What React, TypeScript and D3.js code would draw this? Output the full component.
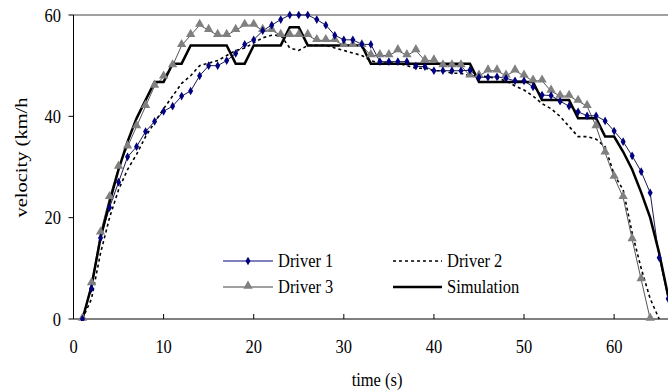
import React from "react";
import * as d3 from "d3";

const time1: number[] = d3.range(1, 67);
const driver1: number[] = [0, 6, 16, 22, 27, 32, 34, 37, 39, 41, 42, 44, 45, 48, 50, 50, 51, 52.4, 54.2, 55.1, 56.9, 58, 59.1, 60, 60, 60, 59.1, 58, 56, 55.1, 55.1, 54.2, 54.2, 50.8, 50.8, 50.8, 50.8, 49.9, 49.8, 49, 49, 49, 49, 49.1, 47.7, 47.7, 47.8, 47.5, 47, 47, 45.8, 44.2, 44.1, 43, 42, 40.9, 40.1, 40.1, 39.1, 37.1, 35, 32.2, 29.1, 24.9, 12.1, 4];

const time2: number[] = d3.range(1, 66);
const driver2: number[] = [0, 4, 13, 20, 25.5, 29.5, 32.5, 36, 38.8, 41.5, 44, 46.5, 48, 50, 50.5, 51, 52, 53, 53.5, 54.5, 55.5, 56, 56, 53.5, 53, 54, 54, 54, 53.5, 53, 52.5, 52, 51, 50.5, 50.5, 50.5, 50, 49.5, 49.5, 49, 49, 48.5, 48.5, 48, 48, 47.8, 47.5, 47, 46, 45.2, 44, 42.5, 41.5, 40, 38, 36, 36, 35.5, 34, 28.5, 25.5, 17, 10, 4, 0];

const time3: number[] = d3.range(1, 65);
const driver3: number[] = [0, 7, 17, 24, 30, 34, 38, 42, 46, 47.8, 50, 54, 56, 58, 57, 56, 56, 57, 58, 58, 57, 57, 56, 56, 56, 56, 55, 55, 55, 54, 54, 54, 52, 52, 52, 53, 52, 53, 51, 51, 50, 50, 50, 48, 48, 49, 49, 48, 49, 48, 47, 47, 45, 44, 44, 43, 42, 38, 32.8, 28, 24, 15.7, 7.8, 0];

const timeSim: number[] = d3.range(1, 67);
const simulation: number[] = [0, 6.5, 16, 23, 29.5, 35, 39.6, 43.2, 46.8, 46.8, 50.4, 50.4, 54, 54, 54, 54, 54, 50.4, 50.4, 54, 54, 54, 54, 57.6, 57.6, 54, 54, 54, 54, 54, 54, 54, 50.4, 50.4, 50.4, 50.4, 50.4, 50.4, 50.4, 50.4, 50.4, 50.4, 50.4, 50.4, 46.8, 46.8, 46.8, 46.8, 46.8, 46.8, 46.8, 43.2, 43.2, 43.2, 43.2, 39.6, 39.6, 39.6, 36, 36, 33, 29.5, 25, 20, 13, 4.5];

const xTicks: number[] = [0, 10, 20, 30, 40, 50, 60];
const yTicks: number[] = [0, 20, 40, 60];
const xTitle = "time (s)";
const yTitle = "velocity (km/h";
const seriesNames: string[] = ["Driver 1", "Driver 2", "Driver 3", "Simulation"];

const W = 668;
const H = 392;
const left = 73.5;
const right = 668.2;
const top = 15;
const bottom = 319;
const FONT = '"Liberation Serif", "DejaVu Serif", serif';
const FS = 18.5;
const SX = 0.89;

function T(props: { x: number; y: number; anchor?: string; children: React.ReactNode }) {
  return (
    <text
      transform={`translate(${props.x},${props.y}) scale(${SX},1)`}
      textAnchor={props.anchor || "start"}
      fontSize={FS}
      style={{ fontFamily: FONT, fill: "#000" }}
    >
      {props.children}
    </text>
  );
}

export default function App() {
  const x = d3.scaleLinear().domain([0, 66]).range([left, right]);
  const y = d3.scaleLinear().domain([0, 60]).range([bottom, top]);
  const line = d3
    .line<[number, number]>()
    .x((d) => x(d[0]))
    .y((d) => y(d[1]));
  const pts = (t: number[], v: number[]) => t.map((ti, i) => [ti, v[i]] as [number, number]);
  const d1 = pts(time1, driver1);
  const d2 = pts(time2, driver2);
  const d3p = pts(time3, driver3);
  const ds = pts(timeSim, simulation);
  const diamond = d3.symbol().type(d3.symbolDiamond).size(22)() as string;
  const tri = d3.symbol().type(d3.symbolTriangle).size(38)() as string;

  return (
    <svg
      width={W}
      height={H}
      style={{ position: "absolute", left: 0, top: 0, background: "#fff", fontFamily: FONT }}
    >
      <defs>
        <clipPath id="plot">
          <rect x={left} y={0} width={right - left} height={bottom + 2} />
        </clipPath>
      </defs>
      <rect x={0} y={0} width={W} height={H} fill="#fff" />
      <line x1={left} x2={W} y1={top} y2={top} stroke="#808080" strokeWidth={1.5} />
      <line x1={left} x2={left} y1={top} y2={bottom} stroke="#000" strokeWidth={1} />
      <line x1={left} x2={W} y1={bottom} y2={bottom} stroke="#000" strokeWidth={1} />
      {yTicks.map((t) => (
        <g key={"y" + t}>
          <line x1={left - 5} x2={left} y1={y(t)} y2={y(t)} stroke="#000" />
          <T x={61} y={y(t) + 6.5} anchor="end">{t}</T>
        </g>
      ))}
      {xTicks.map((t) => (
        <g key={"x" + t}>
          <line x1={x(t)} x2={x(t)} y1={bottom - 5} y2={bottom} stroke="#000" />
          <T x={x(t)} y={353} anchor="middle">{t}</T>
        </g>
      ))}
      <T x={377} y={386} anchor="middle">{xTitle}</T>
      <text
        transform={`translate(27,157.5) scale(0.8,1) rotate(-90)`}
        textAnchor="middle"
        fontSize={20.5}
        style={{ fontFamily: FONT, fill: "#000" }}
      >
        {yTitle}
      </text>

      <g clipPath="url(#plot)">
        <path d={line(d2) as string} fill="none" stroke="#000" strokeWidth={1.6} strokeDasharray="3,3" />
        <path d={line(d3p) as string} fill="none" stroke="#555" strokeWidth={1} />
        <path d={line(d1) as string} fill="none" stroke="#000040" strokeWidth={0.9} />
        <path d={line(ds) as string} fill="none" stroke="#000" strokeWidth={2.5} />
        {d3p.map((p, i) => (
          <path key={"t" + i} d={tri} transform={`translate(${x(p[0])},${y(p[1]) - 1})`} fill="#808080" />
        ))}
        {d1.map((p, i) => (
          <path key={"d" + i} d={diamond} transform={`translate(${x(p[0])},${y(p[1])})`} fill="#000080" />
        ))}
      </g>

      <g>
        <line x1={223} x2={273} y1={261} y2={261} stroke="#000080" strokeWidth={1} />
        <path d={diamond} transform="translate(248,261)" fill="#000080" />
        <T x={278} y={267}>{seriesNames[0]}</T>

        <line x1={223} x2={273} y1={287} y2={287} stroke="#808080" strokeWidth={1.5} />
        <path d={tri} transform="translate(248,286)" fill="#808080" />
        <T x={278} y={293}>{seriesNames[2]}</T>

        <line x1={393} x2={442} y1={261} y2={261} stroke="#000" strokeWidth={1.6} strokeDasharray="3,3" />
        <T x={447} y={267}>{seriesNames[1]}</T>

        <line x1={393} x2={442} y1={287} y2={287} stroke="#000" strokeWidth={2.5} />
        <T x={447} y={293}>{seriesNames[3]}</T>
      </g>
    </svg>
  );
}
